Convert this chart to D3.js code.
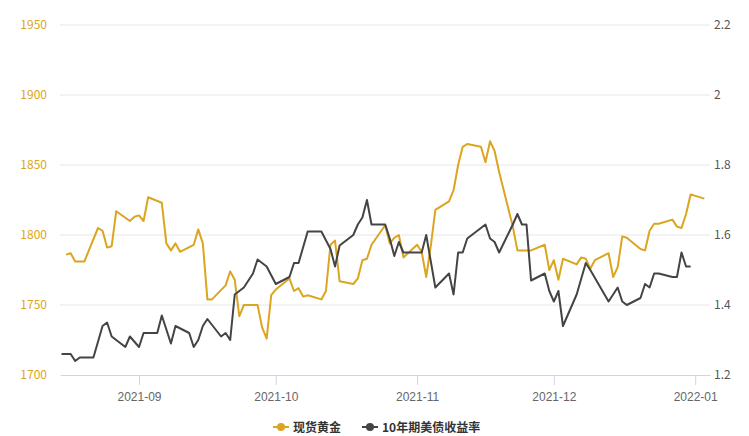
<!DOCTYPE html><html><head><meta charset="utf-8"><script src="https://d3js.org/d3.v7.min.js"></script>
<style>body{margin:0;background:#fff}svg{font-family:"Noto Sans CJK SC","Noto Sans",sans-serif}</style></head><body>
<svg id="c" width="749" height="436"></svg>
<script>
const goldDates=["08-16","08-17","08-18","08-19","08-20","08-23","08-24","08-25","08-26","08-27","08-30","08-31","09-01","09-02","09-03","09-06","09-07","09-08","09-09","09-10","09-13","09-14","09-15","09-16","09-17","09-20","09-21","09-22","09-23","09-24","09-27","09-28","09-29","09-30","10-01","10-04","10-05","10-06","10-07","10-08","10-11","10-12","10-13","10-14","10-15","10-18","10-19","10-20","10-21","10-22","10-25","10-26","10-27","10-28","10-29","11-01","11-02","11-03","11-04","11-05","11-08","11-09","11-10","11-11","11-12","11-15","11-16","11-17","11-18","11-19","11-22","11-23","11-24","11-26","11-29","11-30","12-01","12-02","12-03","12-06","12-07","12-08","12-09","12-10","12-13","12-14","12-15","12-16","12-17","12-20","12-21","12-22","12-23","12-24","12-27","12-28","12-29","12-30","12-31","01-03"];
const goldValues=[1786,1787,1781,1781,1781,1805,1803,1791,1792,1817,1810,1813,1814,1810,1827,1823,1794,1789,1794,1788,1793,1804,1794,1754,1754,1764,1774,1768,1742,1750,1750,1734,1726,1757,1761,1769,1760,1762,1756,1757,1754,1760,1793,1796,1767,1765,1769,1782,1783,1793,1807,1794,1798,1800,1784,1793,1788,1770,1792,1818,1824,1832,1850,1863,1865,1863,1852,1867,1860,1845,1806,1789,1789,1789,1793,1775,1782,1768,1783,1779,1784,1783,1776,1782,1787,1770,1777,1799,1798,1790,1789,1803,1808,1808,1811,1806,1805,1815,1829,1826];
const yieldDates=["08-15","08-17","08-18","08-19","08-22","08-24","08-25","08-26","08-29","08-30","09-01","09-02","09-05","09-06","09-08","09-09","09-12","09-13","09-14","09-15","09-16","09-19","09-20","09-21","09-22","09-24","09-26","09-27","09-29","10-01","10-04","10-05","10-06","10-08","10-11","10-13","10-14","10-15","10-18","10-19","10-20","10-21","10-22","10-25","10-26","10-27","10-28","10-29","11-01","11-02","11-03","11-05","11-08","11-09","11-10","11-11","11-12","11-16","11-17","11-18","11-19","11-22","11-23","11-24","11-25","11-26","11-29","11-30","12-01","12-02","12-03","12-06","12-08","12-09","12-13","12-15","12-16","12-17","12-20","12-21","12-22","12-23","12-24","12-27","12-28","12-29","12-30","12-31"];
const yieldValues=[1.26,1.26,1.24,1.25,1.25,1.34,1.35,1.31,1.28,1.31,1.28,1.32,1.32,1.37,1.29,1.34,1.32,1.28,1.30,1.34,1.36,1.31,1.32,1.30,1.43,1.45,1.49,1.53,1.51,1.46,1.48,1.52,1.52,1.61,1.61,1.56,1.51,1.57,1.60,1.63,1.65,1.70,1.63,1.63,1.59,1.54,1.58,1.55,1.55,1.55,1.60,1.45,1.49,1.43,1.55,1.55,1.59,1.63,1.59,1.58,1.55,1.63,1.66,1.63,1.63,1.47,1.49,1.44,1.41,1.44,1.34,1.43,1.52,1.50,1.41,1.45,1.41,1.40,1.42,1.46,1.45,1.49,1.49,1.48,1.48,1.55,1.51,1.51];
const leftTicks=[1700,1750,1800,1850,1900,1950];
const rightTicks=[1.2,1.4,1.6,1.8,2,2.2];
const seriesNames=["现货黄金","10年期美债收益率"];
const colors=["#dba520","#444444"];
const pd=s=>new Date((s.startsWith("01")?"2022-":"2021-")+s+"T00:00:00");
const svg=d3.select("#c");
const L=60,R=710,T=25,B=375;
const x=d3.scaleTime().domain([new Date("2021-08-14T16:00:00"),new Date("2022-01-04T06:00:00")]).range([L,R]);
const yL=d3.scaleLinear().domain([1700,1950]).range([B,T]);
const yR=d3.scaleLinear().domain([1.2,2.2]).range([B,T]);
leftTicks.forEach(t=>{if(t>1700)svg.append("line").attr("x1",L).attr("x2",R).attr("y1",yL(t)).attr("y2",yL(t)).attr("stroke","#e6e6e6");
 svg.append("text").attr("x",47).attr("y",yL(t)+4).attr("text-anchor","end").attr("fill","#dba520").attr("font-size",12).text(t);});
rightTicks.forEach(t=>svg.append("text").attr("x",714).attr("y",yR(t)+4).attr("fill","#555").attr("font-size",12).text(t));
const xa=svg.append("g").attr("transform",`translate(0,${B})`).call(d3.axisBottom(x).tickValues([new Date("2021-09-01T00:00"),new Date("2021-10-01T00:00"),new Date("2021-11-01T00:00"),new Date("2021-12-01T00:00"),new Date("2022-01-01T00:00")]).tickFormat(d3.timeFormat("%Y-%m")).tickSize(10).tickSizeOuter(0));
xa.select(".domain").attr("stroke","#ccd6eb");xa.selectAll("line").attr("stroke","#ccd6eb");
xa.selectAll("text").attr("fill","#666").attr("font-size",12).attr("dy","1.1em");
const lg=d3.line().x(d=>x(pd(d[0]))).y(d=>yL(d[1]));
const ly=d3.line().x(d=>x(pd(d[0]))).y(d=>yR(d[1]));
svg.append("path").attr("d",lg(goldDates.map((d,i)=>[d,goldValues[i]]))).attr("fill","none").attr("stroke",colors[0]).attr("stroke-width",2).attr("stroke-linejoin","round");
svg.append("path").attr("d",ly(yieldDates.map((d,i)=>[d,yieldValues[i]]))).attr("fill","none").attr("stroke",colors[1]).attr("stroke-width",2).attr("stroke-linejoin","round");
const legX=[273,362];
seriesNames.forEach((n,i)=>{const g=svg.append("g").attr("transform",`translate(${legX[i]},427)`);
 g.append("line").attr("x1",0).attr("x2",16).attr("stroke",colors[i]).attr("stroke-width",2);
 g.append("circle").attr("cx",8).attr("r",4).attr("fill",colors[i]);
 g.append("text").attr("x",20).attr("y",5).attr("font-size",12).attr("font-weight","bold").attr("fill","#333").text(n);});
</script></body></html>
